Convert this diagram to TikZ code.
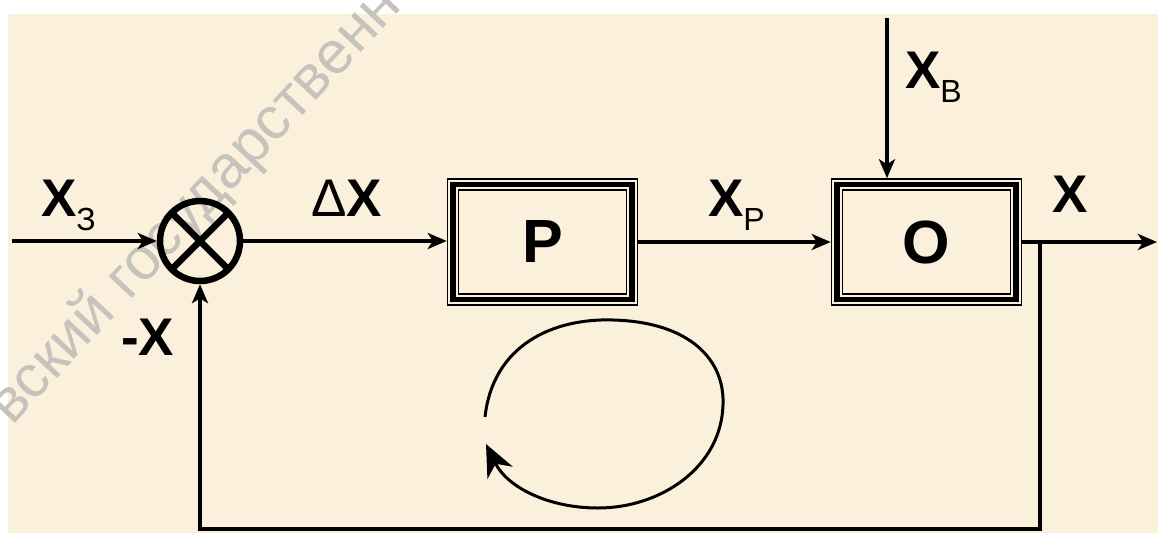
\documentclass[tikz,border=0pt]{standalone}
\usepackage{fontspec}
\setmainfont{Liberation Sans}
\usetikzlibrary{arrows.meta}
\definecolor{cream}{RGB}{250,240,220}
\definecolor{wmgray}{RGB}{198,194,188}
\newcommand\subtxt[1]{\raisebox{-14pt}{\fontsize{32}{32}\selectfont\mdseries #1}}
\newcommand\wmtext{вский государственн}
\begin{document}
\begin{tikzpicture}[x=1pt,y=-1pt,
  sig/.style={line width=3.5pt, line join=miter, -{Stealth[length=19pt,width=16pt,inset=5pt]}},
  loopline/.style={line width=3pt, -{Stealth[length=32pt,width=28pt,inset=10pt]}},
  sumnode/.style={circle, draw, line width=6.5pt, minimum size=80pt, inner sep=0pt, outer sep=3.25pt},
  blockbox/.style={draw, line width=1.5pt, minimum width=190pt, minimum height=126pt, inner sep=0pt, outer sep=0.75pt, font=\bfseries\fontsize{61}{61}\selectfont},
  lbl/.style={font=\bfseries\fontsize{53}{53}\selectfont, inner sep=0pt, outer sep=0pt, anchor=base west},
  wm/.style={font=\fontsize{60}{60}\selectfont, rotate=47, inner sep=0pt, text=wmgray}]
\useasboundingbox (0,0) rectangle (1158,533);
\clip (0,0) rectangle (1158,533);
\fill[white] (0,0) rectangle (1158,533);
\fill[cream] (8,14) rectangle (1158,533);
% watermark
\node[wm] (wm) at (196,206) {\wmtext};
% nodes
\node[sumnode] (sum) at (200,241) {};
\draw[line width=6.5pt] ([shift={(-29pt,29pt)}]sum.center) -- ([shift={(29pt,-29pt)}]sum.center);
\draw[line width=6.5pt] ([shift={(-29pt,-29pt)}]sum.center) -- ([shift={(29pt,29pt)}]sum.center);
\node[blockbox] (boxP) at (542.5,242) {P};
\node[blockbox] (boxO) at (926.5,242) {O};
\foreach \b in {boxP,boxO} {
  \draw[line width=5.5pt] ([shift={(6.25pt,-6.25pt)}]\b.north west) rectangle ([shift={(-6.25pt,6.25pt)}]\b.south east);
  \draw[line width=1.6pt] ([shift={(11.75pt,-11.75pt)}]\b.north west) rectangle ([shift={(-11.75pt,11.75pt)}]\b.south east);
}
% connectors
\coordinate (zin) at (12,241);
\draw[sig] (zin) -- (sum.west);
\draw[sig] (sum.east) -- (sum.east -| boxP.west);
\draw[sig] (boxP.east) -- (boxO.west);
\coordinate (xbtop) at (887,18);
\draw[sig] (xbtop) -- (xbtop |- boxO.north);
\coordinate (br) at (1040,242);
\coordinate (xout) at (1157,242);
\draw[sig] (boxO.east) -- (xout);
\coordinate (fbr) at (1040,529);
\coordinate (fbl) at (200,529);
\draw[sig] (br) -- (fbr) -- (fbl) -- (sum.south);
% labels
\node[lbl] (lXz) at (41,216) {X\subtxt{З}};
\node[lbl] (ldX) at (311,216) {{\mdseries Δ}X};
\node[lbl] (lXp) at (708,216) {X\subtxt{P}};
\node[lbl] (lXb) at (905,88) {X\subtxt{B}};
\node[lbl] (lX) at (1052,212) {X};
\node[lbl] (lmX) at (121,355) {-X};
% loop arrow
\coordinate (lpS) at (485,417);
\coordinate (lpE) at (486,444);
\draw[loopline] (lpS) .. controls (493,345) and (553,318) .. (613,320) .. controls (690,322) and (725,360) .. (723,405) .. controls (721,468) and (660,508) .. (598,508) .. controls (548,508) and (507,487) .. (lpE);
\end{tikzpicture}
\end{document}
